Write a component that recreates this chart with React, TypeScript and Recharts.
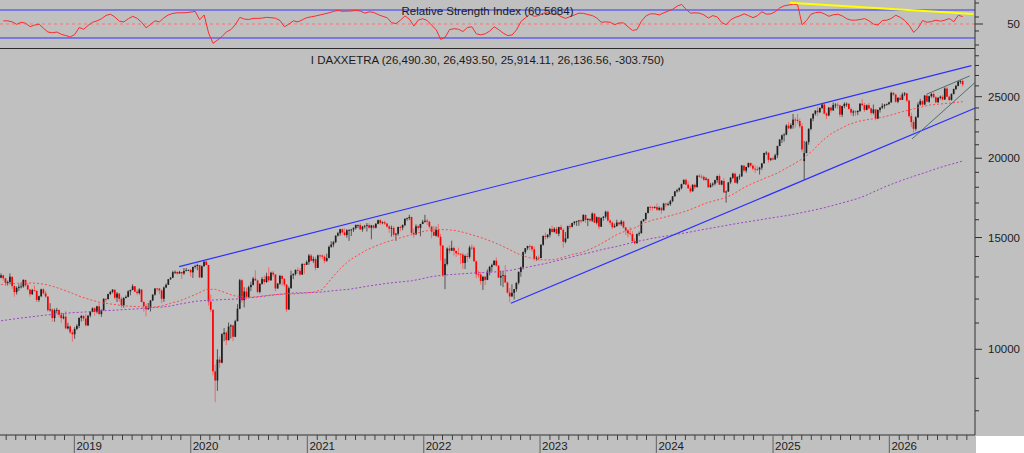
import React from 'react';
import { ComposedChart, Bar, Line, XAxis, YAxis, ReferenceLine } from 'recharts';

// weekly candles, first week starts on monday 2018-05-14
const WEEK0 = Date.UTC(2018, 4, 14);
const WEEK_MS = 7 * 864e5;
const SLOTS = 437; // weeks that fit across the plot
const PLOT_RIGHT = 975;
const MAIN_PLOT_H = 387;
const FONT = "'Liberation Sans', Arial, sans-serif";

// [open, high, low, close]
const OHLC_2018 = [
  [12970, 13170, 12940, 13077], [13077, 13100, 12830, 12938], [12938, 12960, 12580, 12724], [12724, 12830, 12600, 12767],
  [12767, 13170, 12700, 13011], [13011, 13020, 12450, 12580], [12580, 12620, 12100, 12306], [12306, 12560, 12200, 12496],
  [12496, 12660, 12360, 12541], [12541, 12750, 12470, 12561], [12561, 12890, 12500, 12860], [12860, 12880, 12550, 12616],
  [12616, 12720, 12380, 12424], [12424, 12440, 12100, 12211], [12211, 12450, 12180, 12394], [12394, 12600, 12330, 12364],
  [12364, 12380, 11870, 11959], [11959, 12150, 11880, 12124], [12124, 12460, 12080, 12431], [12431, 12470, 12200, 12247],
  [12247, 12360, 12050, 12111], [12111, 12120, 11460, 11524], [11524, 11820, 11470, 11554], [11554, 11600, 11050, 11201],
  [11201, 11590, 11050, 11519], [11519, 11620, 11400, 11529], [11529, 11560, 11230, 11341], [11341, 11430, 11010, 11193],
  [11193, 11390, 11150, 11257], [11257, 11480, 10760, 10788], [10788, 11010, 10740, 10866], [10866, 10900, 10580, 10634],
  [10634, 10720, 10280, 10559],
];

const OHLC_2019 = [
  [10559, 10840, 10390, 10767], [10767, 10950, 10720, 10887], [10887, 11230, 10800, 11205], [11205, 11330, 11060, 11282],
  [11282, 11330, 11080, 11181], [11181, 11370, 10860, 10907], [10907, 11310, 10880, 11300], [11300, 11480, 11230, 11458],
  [11458, 11640, 11440, 11602], [11602, 11660, 11300, 11458], [11458, 11710, 11390, 11686], [11686, 11820, 11330, 11364],
  [11364, 11560, 11250, 11526], [11526, 12030, 11500, 12010], [12010, 12030, 11870, 11999], [11999, 12230, 11980, 12222],
  [12222, 12360, 12170, 12315], [12315, 12440, 12250, 12413], [12413, 12420, 11980, 12060], [12060, 12310, 11870, 12239],
  [12239, 12260, 11880, 12011], [12011, 12100, 11620, 11727], [11727, 12080, 11630, 12045], [12045, 12160, 12030, 12096],
  [12096, 12390, 12070, 12340], [12340, 12420, 12160, 12399], [12399, 12660, 12390, 12569], [12569, 12570, 12290, 12323],
  [12323, 12440, 12170, 12260], [12260, 12480, 12200, 12419], [12419, 12440, 11850, 11872], [11872, 11910, 11460, 11694],
  [11694, 11800, 11270, 11563], [11563, 11830, 11540, 11612], [11612, 11960, 11470, 11939], [11939, 12200, 11910, 12192],
  [12192, 12470, 12150, 12469], [12469, 12490, 12330, 12468], [12468, 12480, 12210, 12381], [12381, 12430, 11820, 12013],
  [12013, 12560, 11880, 12512], [12512, 12700, 12480, 12634], [12634, 12900, 12640, 12895], [12895, 13000, 12860, 12961],
  [12961, 13290, 12960, 13229], [13229, 13310, 13140, 13242], [13242, 13250, 13100, 13164], [13164, 13300, 13160, 13236],
  [13236, 13250, 12910, 13167], [13167, 13430, 13100, 13283], [13283, 13430, 13270, 13319], [13319, 13350, 13280, 13337],
];

const OHLC_2020 = [
  [13337, 13380, 13020, 13219], [13219, 13490, 12950, 13483], [13483, 13590, 13400, 13526], [13526, 13640, 13320, 13577],
  [13577, 13580, 12950, 12982], [12982, 13560, 12950, 13514], [13514, 13760, 13500, 13745], [13745, 13800, 13560, 13579],
  [13579, 13580, 11720, 11890], [11890, 12200, 11440, 11542], [11542, 11550, 9100, 9232], [9232, 9460, 8255, 8929],
  [8929, 10000, 8600, 9633], [9633, 9750, 9350, 9525], [9525, 10600, 9500, 10565], [10565, 10800, 10300, 10626],
  [10626, 10680, 10160, 10336], [10336, 11020, 10330, 10861], [10861, 10950, 10400, 10904], [10904, 10930, 10300, 10465],
  [10465, 11130, 10450, 11074], [11074, 11780, 11070, 11587], [11587, 12910, 11570, 12848], [12848, 12900, 11850, 11949],
  [11949, 12530, 11640, 12331], [12331, 12500, 11980, 12089], [12089, 12600, 12060, 12528], [12528, 12780, 12350, 12634],
  [12634, 13000, 12600, 12920], [12920, 13320, 12800, 12838], [12838, 12870, 12250, 12313], [12313, 12720, 12250, 12675],
  [12675, 13000, 12640, 12901], [12901, 13080, 12650, 12765], [12765, 13200, 12720, 13033], [13033, 13460, 12760, 12842],
  [12842, 13250, 12830, 13203], [13203, 13300, 13000, 13116], [13116, 13140, 12340, 12469], [12469, 12720, 12460, 12689],
  [12689, 13100, 12630, 13051], [13051, 13080, 12580, 12909], [12909, 12950, 12550, 12646], [12646, 12660, 11450, 11556],
  [11556, 12560, 11530, 12480], [12480, 13300, 12460, 13077], [13077, 13180, 12900, 13137], [13137, 13360, 13070, 13336],
  [13336, 13460, 13140, 13298], [13298, 13420, 13050, 13114], [13114, 13660, 13100, 13630], [13630, 13650, 13150, 13587],
  [13587, 13800, 13580, 13719],
];

const OHLC_2021 = [
  [13719, 14130, 13590, 14050], [14050, 14130, 13760, 13788], [13788, 14000, 13680, 13873], [13873, 13980, 13310, 13433],
  [13433, 14100, 13430, 14057], [14057, 14100, 13900, 14050], [14050, 14110, 13860, 13994], [13994, 14060, 13660, 13786],
  [13786, 14150, 13730, 13921], [13921, 14570, 13920, 14502], [14502, 14800, 14450, 14621], [14621, 14820, 14480, 14749],
  [14749, 15110, 14700, 15107], [15107, 15310, 15050, 15234], [15234, 15480, 15100, 15460], [15460, 15500, 15160, 15280],
  [15280, 15500, 15070, 15136], [15136, 15460, 14990, 15400], [15400, 15460, 14820, 15417], [15417, 15480, 15080, 15438],
  [15438, 15570, 15300, 15520], [15520, 15730, 15440, 15693], [15693, 15730, 15520, 15693], [15693, 15800, 15410, 15448],
  [15448, 15650, 15320, 15607], [15607, 15700, 15500, 15650], [15650, 15810, 15330, 15688], [15688, 15800, 15500, 15540],
  [15540, 15700, 14900, 15669], [15669, 15710, 15450, 15544], [15544, 15810, 15500, 15761], [15761, 16000, 15740, 15977],
  [15977, 16030, 15700, 15808], [15808, 15900, 15740, 15852], [15852, 15950, 15700, 15781], [15781, 15800, 15540, 15609],
  [15609, 15690, 15260, 15490], [15490, 15660, 15050, 15531], [15531, 15630, 15050, 15156], [15156, 15250, 14820, 15206],
  [15206, 15600, 15100, 15587], [15587, 15650, 15350, 15543], [15543, 15730, 15400, 15688], [15688, 16080, 15630, 16054],
  [16054, 16120, 15940, 16094], [16094, 16290, 15980, 16160], [16160, 16180, 15150, 15257], [15257, 15500, 14990, 15170],
  [15170, 15740, 15150, 15623], [15623, 15680, 15380, 15532], [15532, 15760, 15070, 15756], [15756, 15990, 15750, 15885],
];

const OHLC_2022 = [
  [15885, 16290, 15830, 15948], [15948, 16050, 15700, 15883], [15883, 15950, 15500, 15603], [15603, 15650, 14960, 15318],
  [15318, 15650, 15100, 15100], [15100, 15600, 15050, 15425], [15425, 15750, 14980, 15042], [15042, 15200, 13800, 14567],
  [14567, 14600, 13000, 13095], [13095, 13900, 12440, 13628], [13628, 14470, 13550, 14413], [14413, 14580, 14150, 14306],
  [14306, 14830, 14280, 14446], [14446, 14510, 14050, 14284], [14284, 14310, 13980, 14164], [14164, 14460, 14060, 14142],
  [14142, 14160, 13620, 14098], [14098, 14200, 13380, 13674], [13674, 14100, 13380, 14027], [14027, 14180, 13730, 13982],
  [13982, 14560, 13900, 14462], [14462, 14630, 14340, 14460], [14460, 14560, 13740, 13762], [13762, 13800, 12940, 13127],
  [13127, 13300, 12960, 13118], [13118, 13240, 12650, 12813], [12813, 13030, 12400, 13015], [13015, 13020, 12620, 12864],
  [12864, 13360, 12850, 13254], [13254, 13530, 13080, 13484], [13484, 13640, 13250, 13574], [13574, 13800, 13560, 13795],
  [13795, 13960, 13500, 13544], [13544, 13570, 12960, 12971], [12971, 13300, 12600, 13050], [13050, 13250, 12530, 13088],
  [13088, 13570, 12730, 12741], [12741, 12780, 12240, 12285], [12285, 12480, 11860, 12114], [12114, 12660, 12100, 12273],
  [12273, 12440, 11980, 12438], [12438, 12740, 12320, 12731], [12731, 13260, 12650, 13243], [13243, 13500, 13010, 13460],
  [13460, 14260, 13360, 14224], [14224, 14440, 14130, 14431], [14431, 14560, 14330, 14541], [14541, 14620, 14330, 14529],
  [14529, 14580, 14240, 14371], [14371, 14520, 13790, 13893], [13893, 14020, 13790, 13941], [13941, 14060, 13790, 13924],
];

const OHLC_2023 = [
  [13924, 14640, 13920, 14610], [14610, 15110, 14560, 15087], [15087, 15270, 14900, 15033], [15033, 15190, 14950, 15150],
  [15150, 15530, 15010, 15476], [15476, 15660, 15270, 15308], [15308, 15570, 15270, 15482], [15482, 15600, 15190, 15210],
  [15210, 15600, 15070, 15578], [15578, 15710, 15420, 15428], [15428, 15500, 14460, 14768], [14768, 15300, 14690, 14957],
  [14957, 15660, 14930, 15629], [15629, 15740, 15480, 15598], [15598, 15830, 15560, 15808], [15808, 15920, 15700, 15882],
  [15882, 15940, 15640, 15922], [15922, 15990, 15660, 15961], [15961, 16000, 15800, 15914], [15914, 16330, 15910, 16275],
  [16275, 16330, 15820, 15984], [15984, 16080, 15630, 16051], [16051, 16080, 15880, 15950], [15950, 16430, 15870, 16358],
  [16358, 16380, 15810, 15830], [15830, 16190, 15730, 16148], [16148, 16170, 15460, 15603], [15603, 16130, 15580, 16106],
  [16106, 16210, 15940, 16177], [16177, 16530, 16070, 16469], [16469, 16530, 15890, 15952], [15952, 16030, 15700, 15832],
  [15832, 15900, 15470, 15574], [15574, 15780, 15540, 15632], [15632, 16000, 15610, 15840], [15840, 15850, 15660, 15740],
  [15740, 15990, 15650, 15894], [15894, 15940, 15500, 15557], [15557, 15580, 15140, 15387], [15387, 15460, 15010, 15230],
  [15230, 15580, 15100, 15186], [15186, 15350, 14780, 14798], [14798, 14940, 14630, 14688], [14688, 15220, 14690, 15189],
  [15189, 15330, 15080, 15234], [15234, 15960, 15220, 15919], [15919, 16050, 15880, 16029], [16029, 16420, 15960, 16397],
  [16397, 16790, 16370, 16759], [16759, 16840, 16530, 16751], [16751, 16810, 16550, 16706], [16706, 16800, 16660, 16752],
];

const OHLC_2024 = [
  [16752, 16970, 16520, 16594], [16594, 16790, 16530, 16705], [16705, 16760, 16350, 16555], [16555, 17010, 16560, 16961],
  [16961, 17010, 16740, 16918], [16918, 17030, 16820, 16926], [16926, 17200, 16830, 17117], [17117, 17430, 17050, 17419],
  [17419, 17750, 17400, 17735], [17735, 17900, 17650, 17815], [17815, 18000, 17710, 17936], [17936, 18230, 17860, 18206],
  [18206, 18520, 18190, 18492], [18492, 18570, 18150, 18175], [18175, 18380, 17900, 17930], [17930, 18100, 17630, 17737],
  [17737, 18200, 17730, 18161], [18161, 18240, 17870, 18001], [18001, 18800, 18000, 18773], [18773, 18890, 18640, 18704],
  [18704, 18840, 18560, 18693], [18693, 18780, 18420, 18498], [18498, 18680, 18450, 18557], [18557, 18560, 17960, 18002],
  [18002, 18290, 17980, 18164], [18164, 18320, 18040, 18235], [18235, 18500, 18120, 18475], [18475, 18780, 18290, 18748],
  [18748, 18890, 18150, 18172], [18172, 18480, 18130, 18418], [18418, 18610, 17640, 17661], [17661, 17790, 17020, 17723],
  [17723, 18340, 17690, 18322], [18322, 18680, 18230, 18633], [18633, 18970, 18540, 18907], [18907, 18990, 18250, 18302],
  [18302, 18710, 18210, 18699], [18699, 18880, 18490, 18720], [18720, 19520, 18710, 19474], [19474, 19490, 19010, 19121],
  [19121, 19390, 18970, 19374], [19374, 19680, 19310, 19657], [19657, 19680, 19340, 19464], [19464, 19560, 19130, 19255],
  [19255, 19480, 18960, 19215], [19215, 19420, 19100, 19211], [19211, 19390, 18850, 19323], [19323, 19660, 19160, 19626],
  [19626, 20400, 19620, 20385], [20385, 20520, 20230, 20405], [20405, 20420, 19680, 19885], [19885, 20030, 19790, 19984],
];

const OHLC_2025 = [
  [19984, 20130, 19850, 19906], [19906, 20330, 19880, 20215], [20215, 20930, 20010, 20903], [20903, 21450, 20900, 21395],
  [21395, 21800, 21130, 21732], [21732, 21900, 21250, 21787], [21787, 22620, 21740, 22513], [22513, 22800, 22200, 22287],
  [22287, 22700, 22220, 22551], [22551, 23480, 22260, 23009], [23009, 23190, 22350, 22987], [22987, 23480, 22700, 22892],
  [22892, 23100, 22300, 22462], [22462, 22700, 20440, 20642], [19790, 21300, 18490, 20374], [20374, 21290, 20370, 21206],
  [21206, 22300, 21000, 22242], [22242, 23130, 22130, 23087], [23087, 23530, 22870, 23499], [23499, 23800, 23350, 23767],
  [23767, 24100, 23300, 23630], [23630, 24040, 23560, 23997], [23997, 24420, 23900, 24304], [24304, 24480, 23460, 23516],
  [23516, 23620, 23060, 23350], [23350, 24080, 23300, 24033], [24033, 24120, 23600, 23787], [23787, 24480, 23750, 24255],
  [24255, 24420, 23980, 24290], [24290, 24480, 23920, 24218], [24218, 24300, 23230, 23426], [23426, 24200, 23230, 24163],
  [24163, 24490, 23970, 24359], [24359, 24480, 24100, 24363], [24363, 24420, 23880, 23902], [23902, 24050, 23380, 23597],
  [23597, 23840, 23300, 23698], [23698, 23790, 23340, 23639], [23639, 23800, 23380, 23739], [23739, 24410, 23650, 24378],
  [24378, 24770, 24150, 24241], [24241, 24450, 23650, 23830], [23830, 24300, 23800, 24240], [24240, 24450, 23900, 23958],
  [23958, 24050, 23400, 23570], [23570, 24300, 23450, 23877], [23877, 23900, 22950, 23091], [23091, 23850, 23050, 23837],
  [23837, 24050, 23600, 24028], [24028, 24400, 23900, 24186], [24186, 24350, 23950, 24288], [24288, 24400, 24200, 24340],
];

const OHLC_2026 = [
  [24340, 24550, 24250, 24490], [24490, 25460, 24450, 25350], [25350, 25420, 25050, 25200], [25200, 25250, 24450, 24550],
  [24550, 24950, 24420, 24900], [24900, 25150, 24650, 24720], [24720, 25380, 24700, 25200], [25200, 25420, 25050, 25300],
  [25300, 25350, 24500, 24650], [24650, 24700, 23150, 23300], [23300, 23600, 22400, 22800], [22800, 22950, 21950, 22250],
  [22250, 23300, 22100, 23200], [23200, 24500, 23150, 24300], [24300, 24800, 24200, 24600], [24600, 24700, 24100, 24300],
  [24300, 25150, 24250, 25100], [25100, 25200, 24500, 24550], [24550, 25100, 24450, 25050], [25050, 25350, 24900, 25250],
  [25250, 25400, 24850, 24950], [24950, 25050, 24400, 24500], [24500, 24950, 24450, 24900], [24900, 25100, 24750, 25000],
  [25000, 25150, 24650, 24750], [24750, 25850, 24700, 25750], [25750, 25900, 24950, 25000], [25000, 25100, 24600, 24700],
  [24700, 25300, 24650, 25250], [25250, 25750, 25200, 25700], [25700, 26100, 25600, 26000], [26000, 26480, 25950, 26420],
  [26420, 26560, 26200, 26440], [26490.3, 26493.5, 25914.11, 26136.56],
];

// red dotted average, one point every 4 weeks (last point = last week)
const MA_FAST = [
  12650, 12690, 12710, 12720, 12710, 12650, 12540, 12400, 12250, 12090, 11970, 11860, 11800, 11750, 11700, 11680,
  11660, 11650, 11700, 11820, 11920, 12070, 12240, 12430, 12430, 12300, 12150, 12100, 12080, 12120, 12170, 12200,
  12210, 12230, 12260, 12300, 12420, 12920, 13400, 13800, 14080, 14350, 14550, 14730, 14880, 15020, 15160, 15300,
  15400, 15440, 15430, 15380, 15260, 15110, 14960, 14780, 14580, 14350, 14120, 13960, 13850, 13830, 13840, 13960,
  14110, 14200, 14380, 14600, 14880, 15170, 15360, 15530, 15800, 15980, 16100, 16240, 16380, 16550, 16770, 17000,
  17150, 17300, 17550, 17900, 18200, 18450, 18700, 18950, 19300, 19650, 20050, 20600, 21300, 21850, 22250, 22600,
  22850, 23000, 23100, 23250, 23450, 23680, 23870, 24050, 24250, 24330, 24400, 24480, 24550,
];

// purple dotted long average, same spacing
const MA_SLOW = [
  11090, 11140, 11190, 11235, 11280, 11320, 11355, 11390, 11420, 11440, 11465, 11490, 11510, 11530, 11555, 11575,
  11600, 11630, 11655, 11700, 11780, 11850, 11910, 11940, 11960, 11980, 11995, 12020, 12060, 12100, 12150, 12200,
  12240, 12270, 12280, 12290, 12310, 12360, 12400, 12430, 12500, 12570, 12630, 12690, 12740, 12780, 12820, 12900,
  13000, 13060, 13100, 13130, 13160, 13190, 13210, 13230, 13260, 13310, 13400, 13470, 13560, 13650, 13760, 13870,
  13990, 14100, 14200, 14320, 14430, 14520, 14640, 14760, 14860, 14960, 15040, 15120, 15200, 15280, 15380, 15470,
  15560, 15650, 15740, 15830, 15910, 15990, 16080, 16160, 16240, 16340, 16450, 16560, 16680, 16820, 16970, 17120,
  17280, 17500, 17760, 18020, 18250, 18470, 18680, 18880, 19080, 19300, 19490, 19660, 19800,
];

// RSI, one reading every second week (weeks 1, 3, 5 ...)
const RSI = [
  54.5, 54.5, 53, 49.5, 52.5, 51, 46.2, 48.4, 50, 43.8, 38.5, 37.5, 38.5, 35.2, 33.5, 31.5,
  35, 45, 42.5, 48, 52.5, 54.5, 57.5, 62.3, 64, 60, 54, 53, 57.5, 61, 58, 52.5,
  44.5, 49.5, 54.5, 53, 59, 63, 65.2, 66, 66, 66.2, 67, 68, 56, 62.9, 37, 22.4,
  27, 32, 38.8, 42, 49, 59.5, 57, 56.5, 58.1, 58, 58.5, 59.5, 59, 58.2, 55, 46,
  50, 54.5, 53, 56, 59, 60.3, 61.5, 63, 64.5, 66, 68, 69.5, 68, 68.5, 68.5, 69.5,
  68.5, 65.5, 67.4, 66.5, 63.5, 61, 59, 52, 50.5, 55.5, 61.5, 57, 47, 55.7, 57.5, 55,
  48, 42, 28, 31, 42, 43.3, 42.5, 39.2, 45, 46, 36, 34.5, 36, 40, 46, 42,
  37, 33.5, 34.3, 41.5, 53.5, 59, 64, 61, 62, 65.5, 66, 64, 64.5, 60.5, 58, 60.5,
  63, 65.5, 65.2, 63.5, 62, 58.5, 52.5, 53, 52.5, 49, 51.5, 51.5, 46, 40.8, 42, 54,
  61.5, 64.5, 64.5, 63, 66, 68.5, 71, 75.5, 78, 71, 65.5, 66, 65.5, 63, 58.5, 62,
  60, 52, 49, 56, 59.5, 61.5, 64.5, 62, 59, 62, 67.5, 64, 64.5, 67.6, 73, 76,
  77.1, 78.4, 77.5, 49, 55, 64, 66.2, 67, 64.5, 61, 63.2, 64, 61.5, 57.5, 55.5, 55.5,
  56.3, 57.8, 54.5, 50, 48.5, 55, 55.5, 58, 62.5, 59.5, 55, 48, 38, 44, 55, 52.5,
  53.5, 55.5, 54, 55.5, 57.8, 53.3, 62.5, 60.57,
];

// drawn trend lines: [week, price]
const CHANNEL_TOP = [[79.8, 13495], [434.9, 27975]];
const CHANNEL_BOTTOM = [[228.5, 11817], [436.4, 23970]];
const WEDGE_TOP = [[414.7, 25218], [434.1, 26950]];
const WEDGE_BOTTOM = [[408.3, 21450], [436.4, 26300]];
const RSI_TREND = [[353.5, 80.4], [435.8, 64.3]];

const PRICE_TICKS = [8000, 9000, 10000, 11000, 12000, 13000, 14000, 15000, 16000, 17000, 18000, 19000,
  20000, 21000, 22000, 23000, 24000, 25000, 26000, 27000, 28000, 29000];
const PRICE_LABELS = [10000, 15000, 20000, 25000];
const RSI_TICKS = [20, 40, 50, 60, 80];

const CANDLES = [...OHLC_2018, ...OHLC_2019, ...OHLC_2020, ...OHLC_2021, ...OHLC_2022,
  ...OHLC_2023, ...OHLC_2024, ...OHLC_2025, ...OHLC_2026];
const LAST = CANDLES.length - 1;

const rows: any[] = Array.from({ length: SLOTS }, (_, i) => {
  const k = CANDLES[i];
  if (!k) return { i };
  return { i, o: k[0], h: k[1], l: k[2], c: k[3], range: [k[2], k[1]] };
});
MA_FAST.forEach((v, k) => { rows[Math.min(k * 4, LAST)].maFast = v; });
MA_SLOW.forEach((v, k) => { rows[Math.min(k * 4, LAST)].maSlow = v; });
RSI.forEach((v, k) => { rows[k * 2 + 1].rsi = v; });

// month ticks along the week axis
const MONTH_TICKS: number[] = [];
const YEAR_AT = new Map<number, number>();
for (let y = 2018; y <= 2026; y++) {
  for (let m = 0; m < 12; m++) {
    const t = (Date.UTC(y, m, 1) - WEEK0) / WEEK_MS - 0.3;
    if (t > 0 && t < SLOTS - 0.5) {
      MONTH_TICKS.push(t);
      if (m === 0) YEAR_AT.set(t, y);
    }
  }
}

const seg = (p: number[][]) => p.map(([x, y]) => ({ x, y }));

function Candle(props: any) {
  const { x, y, width, height, payload } = props;
  if (!payload || payload.o == null || !isFinite(y) || !isFinite(height)) return null;
  const { o, h, l, c } = payload;
  const span = Math.log(h) - Math.log(l) || 1;
  const toY = (v: number) => y + (height * (Math.log(h) - Math.log(v))) / span;
  const cx = x + width / 2;
  const up = c >= o;
  const top = toY(Math.max(o, c));
  const bottom = toY(Math.min(o, c));
  return (
    <g>
      <line x1={cx} x2={cx} y1={y} y2={y + height} stroke={up ? '#3a3a3a' : '#ff5050'} strokeWidth={0.8} />
      <rect x={cx - 0.85} y={top} width={1.7} height={Math.max(bottom - top, 0.8)} fill={up ? '#202020' : '#ff0000'} />
    </g>
  );
}

const PriceTick = (props: any) => {
  const { y, payload } = props;
  const major = PRICE_LABELS.includes(payload.value);
  return (
    <g>
      <line x1={PLOT_RIGHT} x2={PLOT_RIGHT + (major ? 7 : 4)} y1={y} y2={y} stroke="#303030" />
      {major && (
        <text x={1020} y={y} dy={4} textAnchor="end" fontSize={11.5} fontFamily={FONT} fill="#202020">
          {payload.value}
        </text>
      )}
    </g>
  );
};

const RsiTick = (props: any) => {
  const { y, payload } = props;
  const major = payload.value === 50;
  return (
    <g>
      <line x1={PLOT_RIGHT} x2={PLOT_RIGHT + (major ? 8 : 4)} y1={y} y2={y} stroke="#303030" />
      {major && (
        <text x={1020} y={y} dy={4} textAnchor="end" fontSize={11.5} fontFamily={FONT} fill="#202020">
          50
        </text>
      )}
    </g>
  );
};

const MonthTick = (props: any) => {
  const { x, payload } = props;
  const yr = YEAR_AT.get(payload.value);
  if (yr) {
    return (
      <g>
        <line x1={x} x2={x} y1={MAIN_PLOT_H} y2={MAIN_PLOT_H + 18} stroke="#707070" strokeWidth={1.2} />
        <text x={x + 2} y={MAIN_PLOT_H + 15} fontSize={11.5} fontFamily={FONT} fill="#202020">{yr}</text>
      </g>
    );
  }
  return <line x1={x} x2={x} y1={MAIN_PLOT_H} y2={MAIN_PLOT_H + 5} stroke="#404040" />;
};

const titleStyle: React.CSSProperties = {
  position: 'absolute', left: 0, width: PLOT_RIGHT, textAlign: 'center', fontFamily: FONT,
  fontSize: 11.5, lineHeight: '12px', color: '#1a1a1a', pointerEvents: 'none', whiteSpace: 'nowrap',
};

export default function App() {
  return (
    <div style={{ position: 'relative', width: 1024, height: 453, background: '#c0c0c0', overflow: 'hidden' }}>
      <style>{'body{margin:0}'}</style>
      <div style={{ position: 'absolute', left: 976, top: 436, width: 48, height: 17, background: '#fff' }} />

      <div style={{ position: 'absolute', left: 0, top: 0 }}>
        <ComposedChart width={1024} height={48} data={rows} margin={{ top: 0, right: 0, bottom: 0, left: 0 }}>
          <XAxis type="number" dataKey="i" domain={[-0.5, SLOTS - 0.5]} hide allowDataOverflow />
          <YAxis orientation="right" width={49} domain={[15.71, 84.29]} ticks={RSI_TICKS} interval={0}
            tick={RsiTick} tickLine={false} axisLine={{ stroke: '#303030' }} allowDataOverflow />
          <ReferenceLine y={70} stroke="#3434ff" />
          <ReferenceLine y={30} stroke="#3434ff" />
          <ReferenceLine y={50} stroke="#ff7070" strokeDasharray="3 3" />
          <Line dataKey="rsi" stroke="#ff2a2a" strokeWidth={1} dot={false} connectNulls isAnimationActive={false} />
          <ReferenceLine segment={seg(RSI_TREND)} stroke="#ffff00" strokeWidth={2} />
        </ComposedChart>
      </div>
      <div style={{ position: 'absolute', left: 0, top: 48, width: PLOT_RIGHT, height: 1, background: '#2a2a2a' }} />

      <div style={{ position: 'absolute', left: 0, top: 48 }}>
        <ComposedChart width={1024} height={405} data={rows} margin={{ top: 0, right: 0, bottom: 0, left: 0 }}>
          <XAxis type="number" dataKey="i" domain={[-0.5, SLOTS - 0.5]} ticks={MONTH_TICKS} interval={0}
            tick={MonthTick} tickLine={false} axisLine={{ stroke: '#303030' }} height={18} allowDataOverflow />
          <YAxis orientation="right" width={49} scale="log" domain={[7328, 29830]} ticks={PRICE_TICKS}
            interval={0} tick={PriceTick} tickLine={false} axisLine={{ stroke: '#303030' }} allowDataOverflow />
          <Line dataKey="maSlow" stroke="#a040c8" strokeWidth={1} strokeDasharray="2 2" dot={false}
            connectNulls isAnimationActive={false} />
          <Line dataKey="maFast" stroke="#ff4848" strokeWidth={1} strokeDasharray="2 2" dot={false}
            connectNulls isAnimationActive={false} />
          <Bar dataKey="range" barSize={2} shape={(p: any) => <Candle {...p} />} isAnimationActive={false} />
          <ReferenceLine segment={seg(CHANNEL_TOP)} stroke="#2f2fff" strokeWidth={1.2} />
          <ReferenceLine segment={seg(CHANNEL_BOTTOM)} stroke="#2f2fff" strokeWidth={1.2} />
          <ReferenceLine segment={seg(WEDGE_TOP)} stroke="#4a6f6f" strokeWidth={1} />
          <ReferenceLine segment={seg(WEDGE_BOTTOM)} stroke="#4a6f6f" strokeWidth={1} />
        </ComposedChart>
      </div>

      <div style={{ ...titleStyle, top: 5 }}>Relative Strength Index (60.5684)</div>
      <div style={{ ...titleStyle, top: 54 }}>I DAXXETRA (26,490.30, 26,493.50, 25,914.11, 26,136.56, -303.750)</div>
    </div>
  );
}
